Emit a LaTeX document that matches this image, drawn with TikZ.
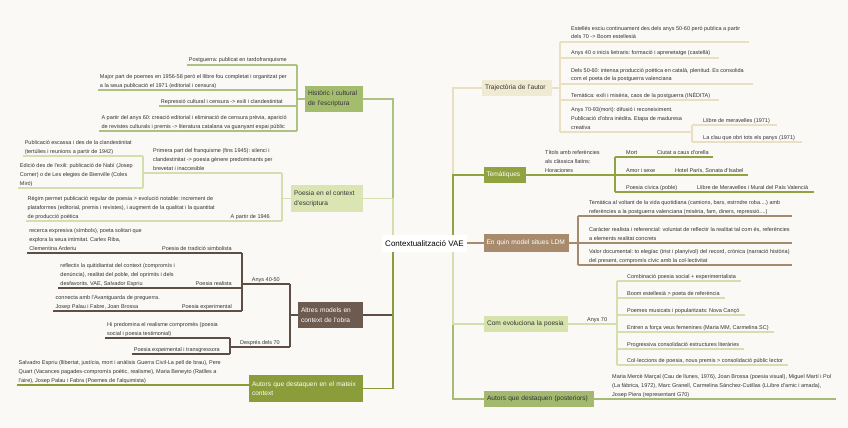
\documentclass[tikz,border=0pt]{standalone}
\usepackage{fontspec}
\setmainfont{Liberation Sans}
\usetikzlibrary{calc}
\frenchspacing
\definecolor{bg}{HTML}{FBF9F5}
\definecolor{txt}{HTML}{333333}
\definecolor{histf}{HTML}{A4BC6E}
\definecolor{histl}{HTML}{ADC183}
\definecolor{poesf}{HTML}{DAE5B3}
\definecolor{poesl}{HTML}{D4DFAE}
\definecolor{altf}{HTML}{6E5B50}
\definecolor{altl}{HTML}{5F4E45}
\definecolor{amf}{HTML}{8B9D3B}
\definecolor{aml}{HTML}{8B9D3B}
\definecolor{trajf}{HTML}{F1EAD2}
\definecolor{trajl}{HTML}{E9E0C3}
\definecolor{temf}{HTML}{8FA341}
\definecolor{teml}{HTML}{8FA341}
\definecolor{modf}{HTML}{A88B6D}
\definecolor{modl}{HTML}{A68A6E}
\definecolor{evof}{HTML}{D7E3AC}
\definecolor{evoLC}{HTML}{D4DFAE}
\definecolor{apf}{HTML}{A2B96F}
\definecolor{apl}{HTML}{A6BB78}
\newcommand\leaffnt{\fontsize{5.5}{8.7}\selectfont}
\newcommand\mainfnt{\fontsize{6.6}{9.7}\selectfont}
\newcommand\centfnt{\fontsize{8}{10}\selectfont}
\tikzset{
  leaf/.style={font=\leaffnt, inner xsep=2pt, inner ysep=1.5pt, align=left, text=txt,
    execute at end node={\rule[-1.3pt]{0pt}{1pt}}},
  lr/.style={leaf, anchor=south west},
  ll/.style={leaf, anchor=south east},
  mainbox/.style={font=\mainfnt, inner xsep=3pt, inner ysep=2pt, align=left, text=txt},
  trunk/.style={line width=1.8pt},
  sub/.style={line width=1.3pt},
}
\begin{document}
\begin{tikzpicture}[x=1pt,y=-1pt]
\useasboundingbox[fill=bg] (0,0) rectangle (848,428);
\coordinate (Lt) at (393,243);
\coordinate (Rt) at (453,243);

% main nodes
\node[mainbox, fill=histf, text width=52pt, minimum height=26pt] (hist) at (334,99) {Històric i cultural\\de l'escriptura};
\node[mainbox, fill=poesf, text width=66pt, minimum height=27pt] (poes) at (327,198.5) {Poesia en el context\\d'escriptura};
\node[mainbox, fill=altf, text=white, text width=59pt, minimum height=26pt] (altres) at (330.5,315) {Altres models en\\context de l'obra};
\node[mainbox, fill=amf, text=white, text width=108pt, minimum height=27pt] (autm) at (306,388.5) {Autors que destaquen en el mateix\\context};
\node[mainbox, fill=trajf, text width=64pt, minimum height=16pt] (traj) at (517,88) {Trajectòria de l'autor};
\node[mainbox, fill=temf, text=white, text width=37pt, inner xsep=2.5pt, minimum height=16pt] (tema) at (505,175) {Temàtiques};
\node[mainbox, fill=modf, text=white, text width=80pt, inner xsep=2.5pt, minimum height=18pt] (model) at (526.5,243) {En quin model situes LDM};
\node[mainbox, fill=evof, text width=78pt, minimum height=16pt] (evo) at (526,324) {Com evoluciona la poesia};
\node[mainbox, fill=apf, text width=104pt, minimum height=16pt] (autp) at (539,399) {Autors que destaquen (posteriors)};

% trunks
\draw[trunk, histl] (Lt) |- (hist.east);
\draw[trunk, poesl] (Lt) |- (poes.east);
\draw[trunk, altl] (Lt) |- (altres.east);
\draw[trunk, aml] (Lt) |- (autm.east);
\draw[trunk, trajl] (Rt) |- (traj.west);
\draw[trunk, teml] (Rt) |- (tema.west);
\draw[trunk, modl] (Rt) -- (model.west);
\draw[trunk, apl] (Rt) |- (autp.west);
\draw[trunk, evoLC] (Rt) |- (evo.west);

\node[fill=white, font=\centfnt, text=black, inner xsep=3pt, inner ysep=3pt, minimum width=83pt, minimum height=17pt] (cen) at (424.5,243.5) {Contextualització VAE};

% ---------- Historic
\coordinate (hJ) at (297,0);
\node[ll] (hA) at (289,65) {Postguerra: publicat en tardofranquisme};
\node[ll] (hB) at (289,90) {Major part de poemes en 1956-58 però el llibre fou completat i organitzat per\\a la seua publicació el 1971 (editorial i censura)};
\node[ll] (hC) at (285,106) {Repressió cultural i censura -> exili i clandestinitat};
\node[ll] (hD) at (289,131) {A partir del anys 60: creació editorial i eliminació de censura prèvia, aparició\\de revistes culturals i premis -> literatura catalana va guanyant espai públic};
\foreach \n in {hA,hB,hC,hD} \draw[sub, histl] (\n.south west) -- (\n.south west -| hJ);
\draw[sub, histl] (hA.south west -| hJ) -- (hD.south west -| hJ);
\draw[sub, histl] (hist.west) -- (hist.west -| hJ);

% ---------- Poesia
\coordinate (pJ) at (282,0);
\coordinate (pAJ) at (143,0);
\node[lr] (pA) at (151,173) {Primera part del franquisme (fins 1945): silenci i\\clandestinitat -> poesia gènere predominants per\\brevetat i inaccesible};
\node[ll] (pA1) at (134,156) {Publicació escassa i des de la clandestinitat\\(tertúlies i reunions a partir de 1942)};
\node[ll] (pA2) at (135,188) {Edició des de l'exili: publicació de Nabí (Josep\\Corner) o de Les elegies de Bienville (Coles\\Miró)};
\node[ll] (pB) at (272,221) {A partir de 1946};
\node[ll] (pB1) at (217,221) {Règim permet publicació regular de poesia > evolució notable: increment de\\plataformes (editorial, premis i revistes), i augment de la qualitat i la quantitat\\de producció poètica};
\draw[sub,poesl] (pA.south west -| pAJ) -- (pA.south west -| pJ);
\draw[sub,poesl] (pA1.south west) -- (pA1.south west -| pAJ);
\draw[sub,poesl] (pA2.south west) -- (pA2.south west -| pAJ);
\draw[sub,poesl] (pA1.south west -| pAJ) -- (pA2.south west -| pAJ);
\draw[sub,poesl] (pB1.south west) -- (pB1.south west -| pJ);
\draw[sub,poesl] (pA.south west -| pJ) -- (pB.south west -| pJ);
\draw[sub,poesl] (poes.west) -- (poes.west -| pJ);

% ---------- Altres models
\coordinate (aJ) at (290,0);
\coordinate (aAJ) at (242,0);
\coordinate (aBJ) at (230,0);
\node[ll] (aA) at (282,284) {Anys 40-50};
\node[ll] (aA1) at (234,253) {Poesia de tradició simbolista};
\node[ll] (aA1a) at (144,253) {recerca expresiva (símbols), poeta solitari que\\explora la seua intimitat. Carles Riba,\\Clementina Arderiu};
\node[ll] (aA2) at (234,288) {Poesia realista};
\node[ll] (aA2a) at (177,288) {reflectix la quitidiantat del context (compromís i\\denúncia), realitat del poble, del oprimits i dels\\desfavorits. VAE, Salvador Espriu};
\node[ll] (aA3) at (234,311) {Poesia experimental};
\node[ll] (aA3a) at (162,311) {connecta amb l'Avantguarda de preguerra.\\Josep Palau i Fabre, Joan Brossa};
\node[ll] (aB) at (282,347) {Després dels 70};
\node[ll] (aB1) at (220,338) {Hi predomina el realisme compromès (poesia\\social i poesia testimonial)};
\node[ll] (aB2) at (222,354) {Poesia expeimental i transgressora};
\draw[sub,altl] (aA.south west -| aAJ) -- (aA.south west -| aJ);
\foreach \n in {aA1a,aA2a,aA3a} \draw[sub,altl] (\n.south west) -- (\n.south west -| aAJ);
\draw[sub,altl] (aA1.south west -| aAJ) -- (aA3.south west -| aAJ);
\draw[sub,altl] (aB.south west -| aBJ) -- (aB.south west -| aJ);
\foreach \n in {aB1,aB2} \draw[sub,altl] (\n.south west) -- (\n.south west -| aBJ);
\draw[sub,altl] (aB1.south west -| aBJ) -- (aB2.south west -| aBJ);
\draw[sub,altl] (aA.south west -| aJ) -- (aB.south west -| aJ);
\draw[sub,altl] (altres.west) -- (altres.west -| aJ);

% ---------- Autors mateix context
\node[ll] (amA) at (223,385) {Salvadro Espriu (llibertat, justícia, mort i anàlisis Guerra Civil-La pell de brau), Pere\\Quart (Vacances pagades-compromís poètic, realisme), Maria Beneyto (Ratlles a\\l'aire), Josep Palau i Fabra (Poemes de l'alquimista)};
\draw[sub, aml] (amA.south west) -- (amA.south west -| autm.west);

% ---------- Trajectoria
\coordinate (tJ) at (560,0);
\coordinate (tEJ) at (692,0);
\node[lr] (tA) at (569,42) {Estellés esciu continuament des dels anys 50-60 però publica a partir\\dels 70 -> Boom estellesià};
\node[lr] (tB) at (569,58) {Anys 40 o inicis lietraris: formació i aprenetatge (castellà)};
\node[lr] (tC) at (569,84) {Dels 50-60: intensa producció poètica en català, plenitud. Es consolida\\com el poeta de la postguerra valenciana};
\node[lr] (tD) at (569,100) {Temàtica: exili i misèria, caos de la postguerra (INÈDITA)};
\node[lr] (tE) at (569,132) {Anys 70-93(mort): difusió i reconeiximent.\\Publicació d'obra inèdita. Etapa de maduresa\\creativa};
\node[lr] (tE1) at (701,125) {Llibre de meravelles (1971)};
\node[lr] (tE2) at (701,142) {La clau que obri tots els panys (1971)};
\foreach \n in {tA,tB,tC,tD} \draw[sub,trajl] (\n.south west -| tJ) -- ([xshift=7pt]\n.south east);
\draw[sub,trajl] (tE.south west -| tJ) -- (tE.south west -| tEJ);
\foreach \n in {tE1,tE2} \draw[sub,trajl] (\n.south west -| tEJ) -- ([xshift=5pt]\n.south east);
\draw[sub,trajl] (tE1.south west -| tEJ) -- (tE2.south west -| tEJ);
\draw[sub,trajl] (tA.south west -| tJ) -- (tE.south west -| tJ);
\draw[sub,trajl] (traj.east) -- (traj.east -| tJ);

% ---------- Tematiques
\coordinate (mJ) at (615,0);
\node[lr] (mA) at (543,175) {Títols amb referències\\als clàssica llatins:\\Horaciones};
\node[lr] (mA1) at (624,157) {Mort};
\node[lr] (mA1a) at (655,157) {Ciutat a caus d'orella};
\node[lr] (mA2) at (624,175) {Amor i sexe};
\node[lr] (mA2a) at (673,175) {Hotel París, Sonata d'Isabel};
\node[lr] (mA3) at (624,192) {Poesia cívica (poble)};
\node[lr] (mA3a) at (695,192) {Llibre de Meravelles i Mural del País Valencià};
\draw[sub,teml] (tema.east) -- (tema.east -| mJ);
\draw[sub,teml] (mA1.south west -| mJ) -- ([xshift=2pt]mA1a.south east);
\draw[sub,teml] (mA2.south west -| mJ) -- ([xshift=2pt]mA2a.south east);
\draw[sub,teml] (mA3.south west -| mJ) -- ([xshift=4pt]mA3a.south east);
\draw[sub,teml] (mA1.south west -| mJ) -- (mA3.south west -| mJ);

% ---------- Model
\coordinate (bJ) at (578,0);
\coordinate (bE) at (792,0);
\node[lr] (bA) at (587,216) {Temàtica al voltant de la vida quotidiana (camions, bars, estrndre roba....) amb\\referències a la postguerra valenciana (misèria, fam, diners, repressió....)};
\node[lr] (bB) at (587,243) {Caràcter realista i referencial: voluntat de reflectir la realitat tal com és, referències\\a elements realitat concrets};
\node[lr] (bC) at (587,265) {Valor documental: to elegíac (trist i planyívol) del record, crònica (narració història)\\del present, compromís cívic amb la col·lectivitat};
\foreach \n in {bA,bB,bC} \draw[sub,modl] (\n.south west -| bJ) -- (\n.south west -| bE);
\draw[sub,modl] (bA.south west -| bJ) -- (bC.south west -| bJ);
\draw[sub,modl] (model.east) -- (model.east -| bJ);

% ---------- Evolucio
\coordinate (eJ) at (617,0);
\node[lr] (eA) at (585,324) {Anys 70};
\node[lr] (e1) at (625,281) {Combinació poesia social + experimentalista};
\node[lr] (e2) at (625,298) {Boom estellesià > poeta de referència};
\node[lr] (e3) at (625,315) {Poemes musicats i popularitzats: Nova Cançó};
\node[lr] (e4) at (625,332) {Entren a força veus femenines (Maria MM, Carmelina SC)};
\node[lr] (e5) at (625,349) {Progressiva consolidació estructures literàries};
\node[lr] (e6) at (625,365) {Col·leccions de poesia, nous premis > consolidació públic lector};
\draw[sub,evoLC] (evo.east) -- (evo.east -| eJ);
\foreach \n in {e1,e2,e3,e4,e5,e6} \draw[sub,evoLC] (\n.south west -| eJ) -- ([xshift=3pt]\n.south east);
\draw[sub,evoLC] (e1.south west -| eJ) -- (e6.south west -| eJ);

% ---------- Autors posteriors
\node[lr] (apA) at (610,399) {Maria Mercè Marçal (Cau de llunes, 1976), Joan Brossa (poesia visual), Miguel Martí i Pol\\(La fàbrica, 1972), Marc Granell, Carmelina Sánchez-Cutillas (LLibre d'amic i amada),\\Josep Piera (representant G70)};
\draw[sub,apl] (autp.east) -- ([xshift=3pt]apA.south east);
\end{tikzpicture}
\end{document}
